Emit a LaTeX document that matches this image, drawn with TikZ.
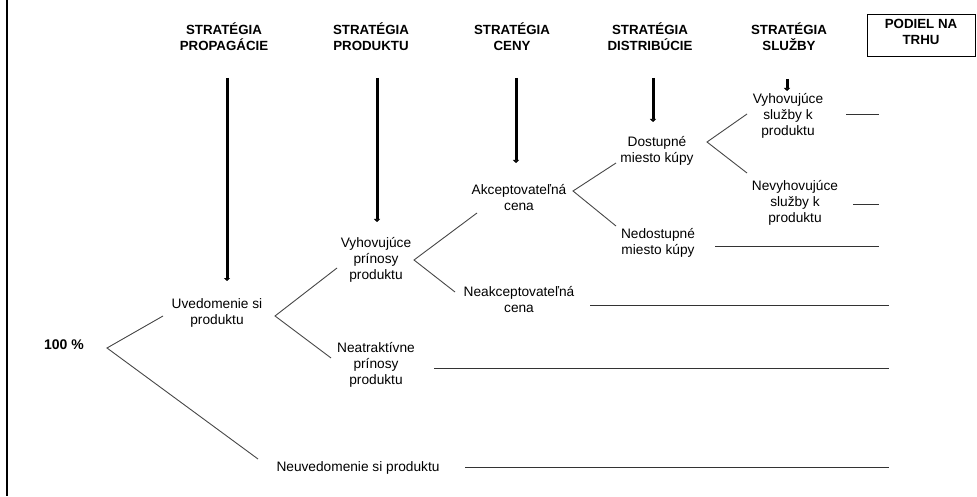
\documentclass[tikz,border=0pt]{standalone}
\usepackage{fontspec}
\setmainfont{Liberation Sans}
\usetikzlibrary{arrows.meta}
\begin{document}
\begin{tikzpicture}[x=1pt,y=-1pt,
  lbl/.style={align=center, font=\fontsize{13.7}{16}\selectfont, inner sep=0pt},
  hdr/.style={align=center, font=\bfseries\fontsize{13.3}{16}\selectfont, inner sep=0pt},
  branch/.style={draw=black!72, line width=0.9pt},
  level/.style={draw=black!80, line width=0.9pt},
  strat/.style={line width=3pt, -{Triangle[length=3pt,width=6pt]}}
]
\useasboundingbox (0,0) rectangle (977,497);
% left border
\coordinate (bt) at (6.7,0);
\coordinate (bb) at (6.7,496);
\draw[line width=2pt] (bt) -- (bb);

% headers
\node[hdr] (h1) at (224,37) {STRATÉGIA\\PROPAGÁCIE};
\node[hdr] (h2) at (371,37) {STRATÉGIA\\PRODUKTU};
\node[hdr] (h3) at (512,37) {STRATÉGIA\\CENY};
\node[hdr] (h4) at (650,37) {STRATÉGIA\\DISTRIBÚCIE};
\node[hdr] (h5) at (789,37) {STRATÉGIA\\SLUŽBY};
\node[draw, line width=0.8pt, minimum width=108pt, minimum height=42pt, inner sep=0pt] (box) at (921,35) {};
\node[hdr] (pod) at (921,32) {PODIEL NA\\TRHU};

% strategy arrows
\coordinate (a1s) at (227,78);  \coordinate (a1e) at (227,281);
\coordinate (a2s) at (377,78);  \coordinate (a2e) at (377,222);
\coordinate (a3s) at (516,78);  \coordinate (a3e) at (516,163);
\coordinate (a4s) at (653,78);  \coordinate (a4e) at (653,122);
\coordinate (a5s) at (787,79);  \coordinate (a5e) at (787,91);
\draw[strat] (a1s) -- (a1e);
\draw[strat] (a2s) -- (a2e);
\draw[strat] (a3s) -- (a3e);
\draw[strat] (a4s) -- (a4e);
\draw[strat] (a5s) -- (a5e);

% labels
\node[font=\bfseries\fontsize{14}{16}\selectfont, inner sep=0pt] (p100) at (64,345) {100 \%};
\node[lbl] (uved) at (217,313) {Uvedomenie si\\produktu};
\node[lbl] (neuv) at (358,468) {Neuvedomenie si produktu};
\node[lbl] (vyhp) at (376,260) {Vyhovujúce\\prínosy\\produktu};
\node[lbl] (neat) at (376,365) {Neatraktívne\\prínosy\\produktu};
\node[lbl] (akc) at (519,198) {Akceptovateľná\\cena};
\node[lbl] (neak) at (519,300) {Neakceptovateľná\\cena};
\node[lbl] (dost) at (657,151) {Dostupné\\miesto kúpy};
\node[lbl] (nedo) at (658,243) {Nedostupné\\miesto kúpy};
\node[lbl] (vyhs) at (788,116) {Vyhovujúce\\služby k\\produktu};
\node[lbl] (nevs) at (795,203) {Nevyhovujúce\\služby k\\produktu};

% branch vertices and ends
\coordinate (v1) at (107,348); \coordinate (v1u) at (163,316); \coordinate (v1d) at (258,459);
\coordinate (v2) at (275,316); \coordinate (v2u) at (337,268); \coordinate (v2d) at (331,358);
\coordinate (v3) at (414,260); \coordinate (v3u) at (477,213); \coordinate (v3d) at (455,292);
\coordinate (v4) at (573,191); \coordinate (v4u) at (616,163); \coordinate (v4d) at (616,226);
\coordinate (v5) at (707,142); \coordinate (v5u) at (747,114); \coordinate (v5d) at (747,173);
\draw[branch] (v1u) -- (v1) -- (v1d);
\draw[branch] (v2u) -- (v2) -- (v2d);
\draw[branch] (v3u) -- (v3) -- (v3d);
\draw[branch] (v4u) -- (v4) -- (v4d);
\draw[branch] (v5u) -- (v5) -- (v5d);

% market share lines
\coordinate (l1a) at (846,114); \coordinate (l1b) at (879,114);
\coordinate (l2a) at (853,204); \coordinate (l2b) at (879,204);
\coordinate (l3a) at (715,246); \coordinate (l3b) at (879,246);
\coordinate (l4a) at (590,305); \coordinate (l4b) at (889,305);
\coordinate (l5a) at (434,368); \coordinate (l5b) at (889,368);
\coordinate (l6a) at (465,467); \coordinate (l6b) at (889,467);
\draw[level] (l1a) -- (l1b);
\draw[level] (l2a) -- (l2b);
\draw[level] (l3a) -- (l3b);
\draw[level] (l4a) -- (l4b);
\draw[level] (l5a) -- (l5b);
\draw[level] (l6a) -- (l6b);
\end{tikzpicture}
\end{document}
